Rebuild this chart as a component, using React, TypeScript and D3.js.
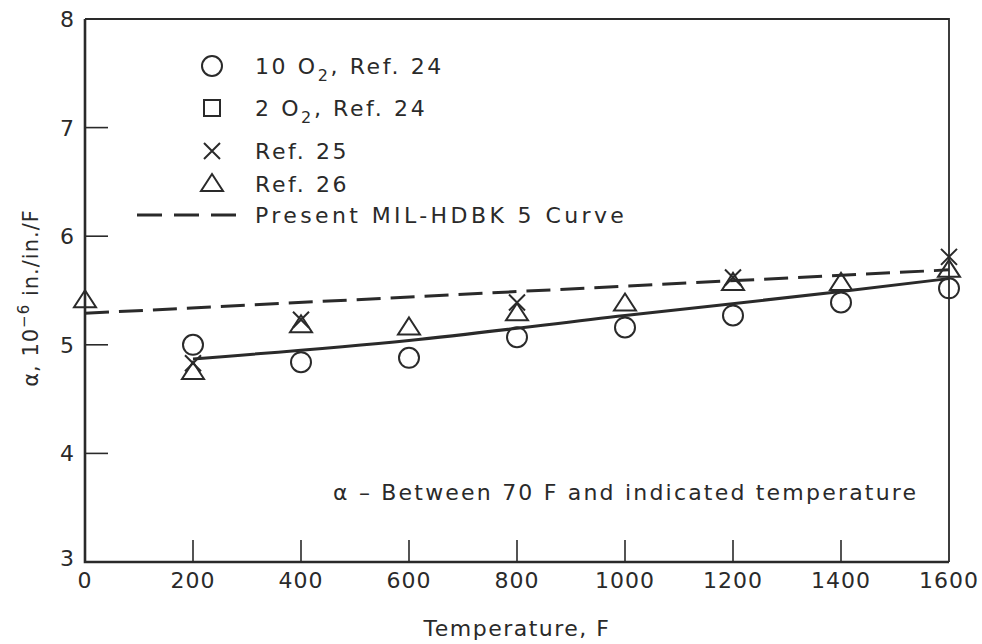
import React from "react";
import * as d3 from "d3";

// values
const circleTemps = [200, 400, 600, 800, 1000, 1200, 1400, 1600];
const circleVals = [5.0, 4.84, 4.88, 5.07, 5.16, 5.27, 5.39, 5.52];

const crossTemps = [200, 400, 800, 1200, 1600];
const crossVals = [4.83, 5.23, 5.39, 5.62, 5.81];

const triTemps = [0, 200, 400, 600, 800, 1000, 1200, 1400, 1600];
const triVals = [5.41, 4.75, 5.18, 5.16, 5.29, 5.38, 5.57, 5.57, 5.69];

const milTemps = [0, 1600];
const milVals = [5.29, 5.69];

const fitTemps = [200, 600, 1000, 1400, 1600];
const fitVals = [4.87, 5.04, 5.27, 5.49, 5.61];

const xTicks = [0, 200, 400, 600, 800, 1000, 1200, 1400, 1600];
const yTicks = [3, 4, 5, 6, 7, 8];

const W = 982;
const H = 644;
const margin = { top: 19, right: 33, bottom: 82, left: 85 };
const ink = "#2a2a2a";
const font = "'DejaVu Sans', sans-serif";

const Circle = ({ x, y }: { x: number; y: number }) => (
  <circle cx={x} cy={y} r={10} fill="none" stroke={ink} strokeWidth={2} />
);
const Cross = ({ x, y }: { x: number; y: number }) => (
  <path d={`M${x - 8},${y - 8}L${x + 8},${y + 8}M${x - 8},${y + 8}L${x + 8},${y - 8}`} stroke={ink} strokeWidth={2} />
);
const Tri = ({ x, y }: { x: number; y: number }) => (
  <path d={`M${x},${y - 10}L${x + 11},${y + 7}L${x - 11},${y + 7}Z`} fill="none" stroke={ink} strokeWidth={2} />
);
const Square = ({ x, y }: { x: number; y: number }) => (
  <rect x={x - 8} y={y - 8} width={16} height={16} fill="none" stroke={ink} strokeWidth={2} />
);

export default function App() {
  const innerW = W - margin.left - margin.right;
  const innerH = H - margin.top - margin.bottom;
  const x = d3.scaleLinear().domain([0, 1600]).range([margin.left, margin.left + innerW]);
  const y = d3.scaleLinear().domain([3, 8]).range([margin.top + innerH, margin.top]);

  const line = d3.line<[number, number]>().x(d => x(d[0])).y(d => y(d[1]));
  const milPath = line(milTemps.map((t, i) => [t, milVals[i]]));
  const fitPath = line.curve(d3.curveMonotoneX)(fitTemps.map((t, i) => [t, fitVals[i]]));

  const x0 = x(0), x1 = x(1600), y0 = y(3), y1 = y(8);
  const legX = 212, legText = 255;
  const ls = 2.6;

  return (
    <svg width={W} height={H} style={{ position: "absolute", left: 0, top: 0, background: "#fff" }} fontFamily={font}>
      {/* frame */}
      <path d={`M${x0},${y1}L${x0},${y0}L${x1},${y0}`} fill="none" stroke={ink} strokeWidth={2.6} />
      <path d={`M${x0},${y1}L${x1},${y1}L${x1},${y0}`} fill="none" stroke={ink} strokeWidth={1.8} />

      {/* ticks inside */}
      {xTicks.slice(1, -1).map(t => (
        <line key={"xt" + t} x1={x(t)} x2={x(t)} y1={y0} y2={y0 - 22} stroke={ink} strokeWidth={1.6} />
      ))}
      {yTicks.slice(1, -1).map(t => (
        <line key={"yt" + t} x1={x0} x2={x0 + 23} y1={y(t)} y2={y(t)} stroke={ink} strokeWidth={1.6} />
      ))}

      {/* tick labels */}
      {xTicks.map(t => (
        <text key={"xl" + t} x={x(t)} y={y0 + 26} textAnchor="middle" fontSize={22} fill={ink} letterSpacing={1}>{t}</text>
      ))}
      {yTicks.map(t => (
        <text key={"yl" + t} x={x0 - 11} y={t === 3 ? y(t) + 4 : y(t) + 8} textAnchor="end" fontSize={22} fill={ink}>{t}</text>
      ))}

      {/* axis titles */}
      <text x={(x0 + x1) / 2} y={636} textAnchor="middle" fontSize={22} fill={ink} letterSpacing={1.5}>Temperature, F</text>
      <text transform={`translate(38,${298}) rotate(-90)`} textAnchor="middle" fontSize={21} fill={ink} letterSpacing={1}>
        α, 10<tspan dy={-9} fontSize={15}>−6</tspan><tspan dy={9}> in./in./F</tspan>
      </text>

      {/* curves */}
      <path d={milPath || ""} fill="none" stroke={ink} strokeWidth={3} strokeDasharray="24 10" />
      <path d={fitPath || ""} fill="none" stroke={ink} strokeWidth={3} />

      {/* data */}
      {triTemps.map((t, i) => <Tri key={"tr" + i} x={x(t)} y={y(triVals[i])} />)}
      {circleTemps.map((t, i) => <Circle key={"c" + i} x={x(t)} y={y(circleVals[i])} />)}
      {crossTemps.map((t, i) => <Cross key={"x" + i} x={x(t)} y={y(crossVals[i])} />)}

      {/* legend */}
      <g fontSize={22} fill={ink} letterSpacing={ls}>
        <Circle x={legX} y={66} />
        <text x={legText} y={74}>10 O<tspan dy={7} fontSize={16}>2</tspan><tspan dy={-7}>, Ref. 24</tspan></text>
        <Square x={legX} y={108} />
        <text x={legText} y={116}>2 O<tspan dy={7} fontSize={16}>2</tspan><tspan dy={-7}>, Ref. 24</tspan></text>
        <Cross x={legX} y={151} />
        <text x={legText} y={159}>Ref. 25</text>
        <Tri x={legX} y={184} />
        <text x={legText} y={192}>Ref. 26</text>
        <line x1={137} x2={236} y1={215} y2={215} stroke={ink} strokeWidth={3} strokeDasharray="25 12" />
        <text x={legText} y={223} letterSpacing={3.4}>Present MIL-HDBK 5 Curve</text>
      </g>

      {/* note */}
      <text x={333} y={500} fontSize={22} fill={ink} letterSpacing={2.2}>α – Between 70 F and indicated temperature</text>
    </svg>
  );
}
